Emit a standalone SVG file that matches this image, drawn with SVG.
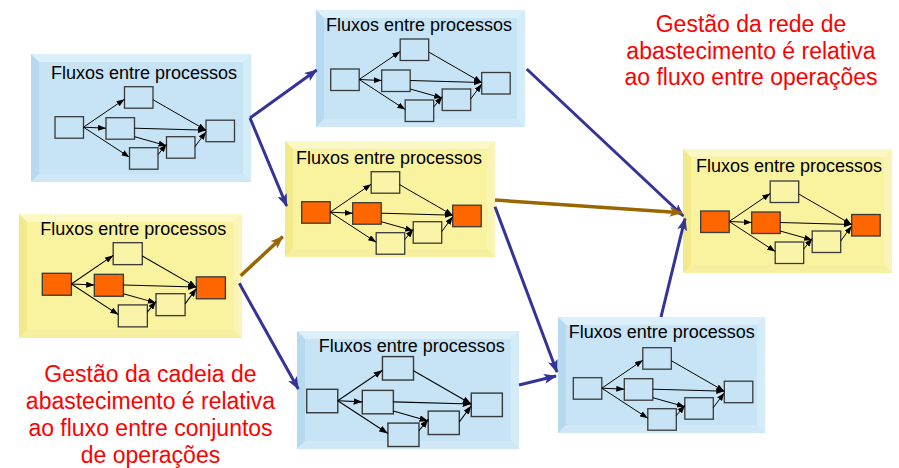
<svg xmlns="http://www.w3.org/2000/svg" xmlns:xlink="http://www.w3.org/1999/xlink" width="899" height="468" viewBox="0 0 899 468">
<style>
.title{font-family:"Liberation Sans",Arial,sans-serif;font-size:18px;fill:#000;text-anchor:middle}
.note{font-family:"Liberation Sans",Arial,sans-serif;font-size:23px;fill:#ff0000;text-anchor:middle}
.blue .face{fill:#c6e4f6}
.blue .bt{fill:#dcf0fb}
.blue .bl{fill:#b6d9ef}
.blue .br{fill:#d4ebf8}
.blue .bb{fill:#cfe7f6}
.yellow .face{fill:#f9f29e}
.yellow .bt{fill:#fcf8c6}
.yellow .bl{fill:#f2e98a}
.yellow .br{fill:#faf5b6}
.yellow .bb{fill:#f6ef9f}
.bx{stroke:#3a3a3a;stroke-width:1.3}
.pb{fill:#c6e4f6}
.py{fill:#faf4a8}
.po{fill:#ff6600}
.ln{stroke:#000;stroke-width:1;fill:none;marker-end:url(#sa)}
.cb{stroke:#333399;stroke-width:3;fill:none;marker-end:url(#ab)}
.cy{stroke:#996600;stroke-width:3.5;fill:none;marker-end:url(#ay)}
</style>
<defs>
<marker id="sa" markerUnits="userSpaceOnUse" markerWidth="8" markerHeight="6" refX="8" refY="3" orient="auto"><path d="M0,0 L8,3 L0,6 z" fill="#000"/></marker>
<marker id="ab" markerUnits="userSpaceOnUse" markerWidth="13" markerHeight="10" refX="12" refY="5" orient="auto"><path d="M0,0 L13,5 L0,10 L3,5 z" fill="#333399"/></marker>
<marker id="ay" markerUnits="userSpaceOnUse" markerWidth="13" markerHeight="10" refX="12" refY="5" orient="auto"><path d="M0,0 L13,5 L0,10 L3,5 z" fill="#996600"/></marker>
<g id="netB">
<rect class="bx pb" x="0" y="0" width="28.5" height="21.5"/>
<rect class="bx pb" x="69.5" y="-30" width="28.5" height="21.5"/>
<rect class="bx pb" x="51" y="1" width="28.5" height="21.5"/>
<rect class="bx pb" x="74.5" y="31" width="28.5" height="21.5"/>
<rect class="bx pb" x="111.5" y="20" width="28.5" height="21.5"/>
<rect class="bx pb" x="151" y="3.5" width="28.5" height="21.5"/>
<line class="ln" x1="28.5" y1="10.5" x2="69.5" y2="-17.5"/>
<line class="ln" x1="28.5" y1="10.5" x2="51" y2="11.5"/>
<line class="ln" x1="28.5" y1="10.5" x2="74.5" y2="40.5"/>
<line class="ln" x1="98" y1="-17" x2="151" y2="13.5"/>
<line class="ln" x1="79.5" y1="11.5" x2="151" y2="13.5"/>
<line class="ln" x1="79.5" y1="20" x2="111.5" y2="29"/>
<line class="ln" x1="103" y1="38" x2="111.5" y2="27.5"/>
<line class="ln" x1="140" y1="30" x2="151" y2="15"/>
</g>
<g id="netY">
<rect class="bx po" x="0" y="0" width="28.5" height="21.5"/>
<rect class="bx py" x="69.5" y="-30" width="28.5" height="21.5"/>
<rect class="bx po" x="51" y="1" width="28.5" height="21.5"/>
<rect class="bx py" x="74.5" y="31" width="28.5" height="21.5"/>
<rect class="bx py" x="111.5" y="20" width="28.5" height="21.5"/>
<rect class="bx po" x="151" y="3.5" width="28.5" height="21.5"/>
<line class="ln" x1="28.5" y1="10.5" x2="69.5" y2="-17.5"/>
<line class="ln" x1="28.5" y1="10.5" x2="51" y2="11.5"/>
<line class="ln" x1="28.5" y1="10.5" x2="74.5" y2="40.5"/>
<line class="ln" x1="98" y1="-17" x2="151" y2="13.5"/>
<line class="ln" x1="79.5" y1="11.5" x2="151" y2="13.5"/>
<line class="ln" x1="79.5" y1="20" x2="111.5" y2="29"/>
<line class="ln" x1="103" y1="38" x2="111.5" y2="27.5"/>
<line class="ln" x1="140" y1="30" x2="151" y2="15"/>
</g>
</defs>
<rect width="899" height="468" fill="#fff"/>

<g id="p1" class="blue" transform="translate(31,54)">
<rect class="face" width="220" height="128"/>
<polygon class="bt" points="0,0 220,0 212,8 8,8"/>
<polygon class="bl" points="0,0 8,8 8,120 0,128"/>
<polygon class="br" points="220,0 220,128 212,120 212,8"/>
<polygon class="bb" points="0,128 220,128 212,120 8,120"/>
<rect class="face" x="8" y="8" width="204" height="112"/>
<text class="title" x="113" y="25">Fluxos entre processos</text>
<use xlink:href="#netB" transform="translate(24,62.7)"/>
</g>

<g id="p2" class="yellow" transform="translate(19,214)">
<rect class="face" width="223" height="124"/>
<polygon class="bt" points="0,0 223,0 215,8 8,8"/>
<polygon class="bl" points="0,0 8,8 8,116 0,124"/>
<polygon class="br" points="223,0 223,124 215,116 215,8"/>
<polygon class="bb" points="0,124 223,124 215,116 8,116"/>
<rect class="face" x="8" y="8" width="207" height="108"/>
<text class="title" x="114.3" y="20.5">Fluxos entre processos</text>
<use xlink:href="#netY" transform="translate(23.3,59.3) scale(1.02)"/>
</g>

<g id="p3" class="yellow" transform="translate(285,141)">
<rect class="face" width="210" height="116"/>
<polygon class="bt" points="0,0 210,0 202,8 8,8"/>
<polygon class="bl" points="0,0 8,8 8,108 0,116"/>
<polygon class="br" points="210,0 210,116 202,108 202,8"/>
<polygon class="bb" points="0,116 210,116 202,108 8,108"/>
<rect class="face" x="8" y="8" width="194" height="100"/>
<text class="title" x="104" y="23.3">Fluxos entre processos</text>
<use xlink:href="#netY" transform="translate(16.7,60.7)"/>
</g>

<g id="p4" class="blue" transform="translate(316,10)">
<rect class="face" width="209" height="117"/>
<polygon class="bt" points="0,0 209,0 201,8 8,8"/>
<polygon class="bl" points="0,0 8,8 8,109 0,117"/>
<polygon class="br" points="209,0 209,117 201,109 201,8"/>
<polygon class="bb" points="0,117 209,117 201,109 8,109"/>
<rect class="face" x="8" y="8" width="193" height="101"/>
<text class="title" x="103" y="21">Fluxos entre processos</text>
<use xlink:href="#netB" transform="translate(14.7,59)"/>
</g>

<g id="p5" class="yellow" transform="translate(683,149)">
<rect class="face" width="209" height="124"/>
<polygon class="bt" points="0,0 209,0 201,8 8,8"/>
<polygon class="bl" points="0,0 8,8 8,116 0,124"/>
<polygon class="br" points="209,0 209,124 201,116 201,8"/>
<polygon class="bb" points="0,124 209,124 201,116 8,116"/>
<rect class="face" x="8" y="8" width="193" height="108"/>
<text class="title" x="106" y="23.3">Fluxos entre processos</text>
<use xlink:href="#netY" transform="translate(17.7,62)"/>
</g>

<g id="p6" class="blue" transform="translate(297,331)">
<rect class="face" width="222" height="118"/>
<polygon class="bt" points="0,0 222,0 214,8 8,8"/>
<polygon class="bl" points="0,0 8,8 8,110 0,118"/>
<polygon class="br" points="222,0 222,118 214,110 214,8"/>
<polygon class="bb" points="0,118 222,118 214,110 8,110"/>
<rect class="face" x="8" y="8" width="206" height="102"/>
<text class="title" x="114.7" y="21.3">Fluxos entre processos</text>
<use xlink:href="#netB" transform="translate(9.7,58.3) scale(1.09)"/>
</g>

<g id="p7" class="blue" transform="translate(558,317)">
<rect class="face" width="207" height="116"/>
<polygon class="bt" points="0,0 207,0 199,8 8,8"/>
<polygon class="bl" points="0,0 8,8 8,108 0,116"/>
<polygon class="br" points="207,0 207,116 199,108 199,8"/>
<polygon class="bb" points="0,116 207,116 199,108 8,108"/>
<rect class="face" x="8" y="8" width="191" height="100"/>
<text class="title" x="103.7" y="21.3">Fluxos entre processos</text>
<use xlink:href="#netB" transform="translate(15.3,60.7)"/>
</g>

<g id="connectors">
<line class="cb" x1="250" y1="118" x2="316.7" y2="70"/>
<line class="cb" x1="250" y1="118" x2="286.7" y2="206"/>
<line class="cy" x1="240.7" y1="275.7" x2="282.7" y2="236.7"/>
<line class="cb" x1="239.3" y1="283.3" x2="298.3" y2="389"/>
<line class="cb" x1="526.7" y1="69" x2="683.3" y2="216"/>
<line class="cy" x1="495" y1="200" x2="681.7" y2="212.7"/>
<line class="cb" x1="495" y1="206.7" x2="557" y2="372"/>
<line class="cb" x1="519" y1="385" x2="556" y2="376"/>
<line class="cb" x1="661" y1="317" x2="685" y2="218.5"/>
</g>

<g id="note-top">
<text class="note" x="751" y="32">Gestão da rede de</text>
<text class="note" x="751" y="58.5">abastecimento é relativa</text>
<text class="note" x="751" y="85">ao fluxo entre operações</text>
</g>
<g id="note-bottom">
<text class="note" x="150.5" y="381.5">Gestão da cadeia de</text>
<text class="note" x="150.5" y="408.5">abastecimento é relativa</text>
<text class="note" x="150.5" y="436">ao fluxo entre conjuntos</text>
<text class="note" x="150.5" y="463">de operações</text>
</g>
</svg>
